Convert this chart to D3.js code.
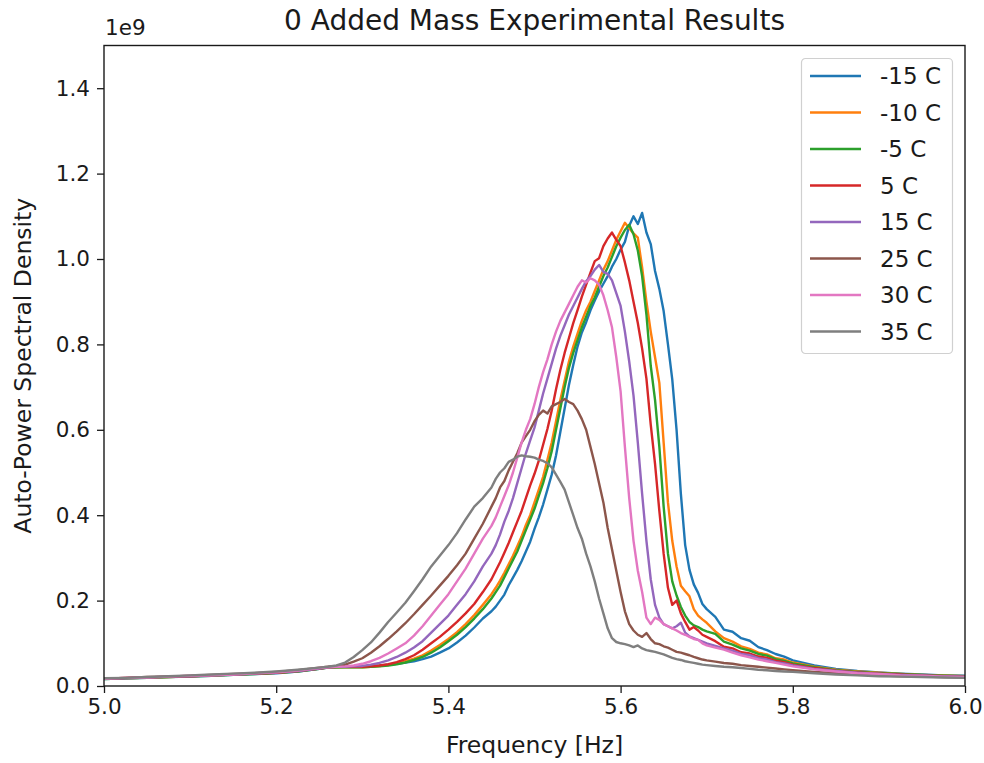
<!DOCTYPE html>
<html>
<head>
<meta charset="utf-8">
<script src="https://cdn.jsdelivr.net/npm/d3@7"></script>
<style>
    body { margin: 0; background: #fff; }
    #chart { width: 984px; height: 763px; }
    text { font-family: "DejaVu Sans", sans-serif; fill: #1a1a1a; }
    .axis path, .axis line { stroke: #1a1a1a; }
</style>
</head>
<body>
<div id="chart"></div>
<script>
// frequency grid [Hz]
const freq = [
    5.000, 5.025, 5.050, 5.075, 5.100, 5.125, 5.150, 5.175, 5.200, 5.225, 5.250,
    5.26, 5.27, 5.28, 5.29, 5.30, 5.31, 5.32, 5.33, 5.34, 5.35, 5.36, 5.37, 5.38, 5.39, 5.40, 5.41, 5.42, 5.43, 5.44,
    5.450, 5.455, 5.460, 5.465, 5.470, 5.475, 5.480, 5.485, 5.490, 5.495,
    5.500, 5.505, 5.510, 5.515, 5.520, 5.525, 5.530, 5.535, 5.540, 5.545,
    5.550, 5.555, 5.560, 5.565, 5.570, 5.575, 5.580, 5.585, 5.590, 5.595,
    5.600, 5.605, 5.610, 5.615, 5.620, 5.625, 5.630, 5.635, 5.640, 5.645,
    5.650, 5.655, 5.660, 5.665, 5.670, 5.675, 5.680, 5.685, 5.690, 5.695, 5.700,
    5.71, 5.72, 5.73, 5.74, 5.75, 5.76, 5.77, 5.78, 5.79, 5.80,
    5.825, 5.850, 5.875, 5.900, 5.925, 5.950, 5.975, 6.000
];

// auto-power spectral density, units of 1e9
const psdM15 = [
    0.016, 0.018, 0.019, 0.021, 0.022, 0.024, 0.026, 0.028, 0.030, 0.034, 0.040,
    0.043, 0.044, 0.045, 0.045, 0.046, 0.047, 0.048, 0.050, 0.052, 0.055, 0.058, 0.063, 0.069, 0.078, 0.088, 0.102, 0.118, 0.137, 0.158,
    0.175, 0.186, 0.200, 0.214, 0.236, 0.254, 0.272, 0.292, 0.315, 0.338,
    0.368, 0.395, 0.425, 0.460, 0.495, 0.540, 0.595, 0.650, 0.705, 0.752,
    0.795, 0.828, 0.852, 0.880, 0.903, 0.924, 0.942, 0.960, 0.982, 1.000,
    1.022, 1.040, 1.078, 1.100, 1.082, 1.108, 1.062, 1.035, 0.972, 0.930,
    0.878, 0.800, 0.718, 0.600, 0.450, 0.330, 0.272, 0.238, 0.218, 0.192, 0.180,
    0.162, 0.132, 0.127, 0.112, 0.106, 0.091, 0.084, 0.075, 0.069, 0.060,
    0.048, 0.040, 0.035, 0.032, 0.029, 0.027, 0.025, 0.024
];
const psdM10 = [
    0.017, 0.018, 0.020, 0.021, 0.023, 0.025, 0.027, 0.029, 0.031, 0.035, 0.041,
    0.043, 0.044, 0.044, 0.044, 0.044, 0.045, 0.047, 0.049, 0.053, 0.058, 0.064, 0.072, 0.083, 0.096, 0.110, 0.126, 0.145, 0.166, 0.190,
    0.215, 0.230, 0.247, 0.265, 0.285, 0.305, 0.327, 0.350, 0.377, 0.400,
    0.430, 0.460, 0.490, 0.530, 0.570, 0.620, 0.670, 0.715, 0.760, 0.795,
    0.825, 0.855, 0.880, 0.900, 0.925, 0.950, 0.975, 0.995, 1.020, 1.045,
    1.065, 1.085, 1.072, 1.060, 1.050, 0.980, 0.900, 0.830, 0.770, 0.710,
    0.570, 0.430, 0.340, 0.280, 0.235, 0.222, 0.210, 0.180, 0.165, 0.156, 0.148,
    0.128, 0.112, 0.104, 0.093, 0.087, 0.078, 0.074, 0.065, 0.062, 0.055,
    0.045, 0.038, 0.034, 0.031, 0.028, 0.026, 0.025, 0.023
];
const psdM5 = [
    0.016, 0.018, 0.019, 0.021, 0.023, 0.024, 0.026, 0.028, 0.031, 0.034, 0.040,
    0.043, 0.044, 0.044, 0.044, 0.044, 0.045, 0.046, 0.048, 0.051, 0.055, 0.061, 0.068, 0.078, 0.090, 0.105, 0.120, 0.138, 0.158, 0.180,
    0.205, 0.220, 0.235, 0.255, 0.275, 0.295, 0.315, 0.340, 0.365, 0.390,
    0.415, 0.445, 0.475, 0.510, 0.550, 0.600, 0.650, 0.700, 0.745, 0.780,
    0.810, 0.840, 0.865, 0.890, 0.910, 0.935, 0.960, 0.980, 1.005, 1.030,
    1.050, 1.068, 1.080, 1.058, 1.020, 0.960, 0.870, 0.750, 0.670, 0.560,
    0.420, 0.310, 0.245, 0.212, 0.185, 0.165, 0.150, 0.142, 0.138, 0.132, 0.128,
    0.122, 0.104, 0.097, 0.088, 0.083, 0.075, 0.071, 0.063, 0.059, 0.053,
    0.044, 0.037, 0.033, 0.030, 0.028, 0.026, 0.024, 0.023
];
const psdP5 = [
    0.017, 0.019, 0.020, 0.022, 0.023, 0.025, 0.027, 0.029, 0.031, 0.035, 0.041,
    0.044, 0.045, 0.045, 0.045, 0.045, 0.046, 0.048, 0.051, 0.056, 0.063, 0.072, 0.085, 0.100, 0.115, 0.132, 0.150, 0.170, 0.192, 0.220,
    0.250, 0.270, 0.290, 0.312, 0.335, 0.360, 0.385, 0.410, 0.440, 0.470,
    0.497, 0.528, 0.565, 0.602, 0.645, 0.695, 0.740, 0.780, 0.815, 0.850,
    0.880, 0.912, 0.940, 0.968, 0.995, 1.002, 1.030, 1.048, 1.062, 1.045,
    1.030, 0.992, 0.950, 0.900, 0.850, 0.790, 0.720, 0.612, 0.520, 0.410,
    0.310, 0.230, 0.190, 0.200, 0.170, 0.150, 0.132, 0.138, 0.130, 0.120, 0.115,
    0.105, 0.092, 0.088, 0.079, 0.076, 0.069, 0.066, 0.059, 0.056, 0.050,
    0.042, 0.036, 0.032, 0.029, 0.027, 0.025, 0.023, 0.022
];
const psdP15 = [
    0.017, 0.018, 0.020, 0.022, 0.023, 0.025, 0.027, 0.029, 0.032, 0.035, 0.041,
    0.044, 0.045, 0.045, 0.046, 0.047, 0.050, 0.054, 0.060, 0.068, 0.078, 0.090, 0.105, 0.125, 0.145, 0.165, 0.190, 0.215, 0.245, 0.280,
    0.310, 0.330, 0.355, 0.385, 0.410, 0.440, 0.475, 0.510, 0.545, 0.575,
    0.605, 0.645, 0.685, 0.720, 0.755, 0.790, 0.820, 0.845, 0.870, 0.890,
    0.910, 0.930, 0.948, 0.960, 0.975, 0.986, 0.970, 0.965, 0.950, 0.920,
    0.890, 0.830, 0.760, 0.680, 0.570, 0.450, 0.340, 0.250, 0.190, 0.160,
    0.145, 0.140, 0.135, 0.140, 0.148, 0.125, 0.116, 0.112, 0.108, 0.104, 0.100,
    0.094, 0.088, 0.083, 0.075, 0.072, 0.065, 0.062, 0.056, 0.053, 0.048,
    0.040, 0.035, 0.031, 0.028, 0.026, 0.024, 0.023, 0.021
];
const psdP25 = [
    0.017, 0.019, 0.021, 0.022, 0.024, 0.026, 0.028, 0.030, 0.033, 0.037, 0.043,
    0.045, 0.047, 0.050, 0.057, 0.065, 0.078, 0.093, 0.110, 0.128, 0.147, 0.168, 0.190, 0.212, 0.235, 0.258, 0.283, 0.310, 0.345, 0.380,
    0.420, 0.440, 0.465, 0.480, 0.505, 0.525, 0.545, 0.570, 0.585, 0.600,
    0.620, 0.635, 0.645, 0.638, 0.655, 0.660, 0.665, 0.672, 0.665, 0.660,
    0.645, 0.625, 0.600, 0.560, 0.520, 0.475, 0.430, 0.370, 0.320, 0.270,
    0.220, 0.175, 0.145, 0.130, 0.120, 0.115, 0.124, 0.110, 0.100, 0.098,
    0.093, 0.090, 0.085, 0.080, 0.078, 0.075, 0.072, 0.068, 0.065, 0.062, 0.060,
    0.057, 0.054, 0.052, 0.049, 0.047, 0.045, 0.043, 0.041, 0.039, 0.037,
    0.033, 0.030, 0.027, 0.025, 0.023, 0.022, 0.021, 0.020
];
const psdP30 = [
    0.017, 0.019, 0.020, 0.022, 0.024, 0.025, 0.027, 0.030, 0.032, 0.036, 0.042,
    0.044, 0.045, 0.046, 0.048, 0.052, 0.058, 0.066, 0.076, 0.088, 0.100, 0.118, 0.140, 0.165, 0.190, 0.215, 0.245, 0.275, 0.310, 0.345,
    0.375, 0.395, 0.420, 0.445, 0.470, 0.500, 0.535, 0.570, 0.600, 0.625,
    0.660, 0.700, 0.735, 0.765, 0.800, 0.830, 0.855, 0.875, 0.895, 0.915,
    0.935, 0.950, 0.945, 0.955, 0.950, 0.940, 0.915, 0.880, 0.840, 0.770,
    0.690, 0.560, 0.440, 0.340, 0.270, 0.220, 0.160, 0.145, 0.160, 0.155,
    0.145, 0.140, 0.135, 0.130, 0.124, 0.120, 0.115, 0.110, 0.108, 0.100, 0.095,
    0.090, 0.085, 0.078, 0.072, 0.067, 0.062, 0.058, 0.054, 0.050, 0.046,
    0.039, 0.034, 0.030, 0.028, 0.025, 0.024, 0.022, 0.021
];
const psdP35 = [
    0.018, 0.019, 0.021, 0.023, 0.025, 0.027, 0.029, 0.031, 0.034, 0.038, 0.043,
    0.045, 0.048, 0.055, 0.068, 0.084, 0.102, 0.125, 0.150, 0.172, 0.195, 0.222, 0.250, 0.280, 0.305, 0.330, 0.358, 0.390, 0.420, 0.440,
    0.465, 0.485, 0.500, 0.510, 0.525, 0.530, 0.537, 0.540, 0.538, 0.537,
    0.535, 0.530, 0.527, 0.522, 0.512, 0.495, 0.478, 0.460, 0.430, 0.400,
    0.370, 0.345, 0.310, 0.280, 0.245, 0.205, 0.170, 0.135, 0.112, 0.103,
    0.100, 0.098, 0.095, 0.091, 0.095, 0.088, 0.084, 0.082, 0.080, 0.077,
    0.074, 0.070, 0.066, 0.063, 0.061, 0.058, 0.056, 0.054, 0.052, 0.050, 0.049,
    0.047, 0.045, 0.044, 0.042, 0.040, 0.038, 0.037, 0.035, 0.034, 0.033,
    0.030, 0.027, 0.025, 0.023, 0.022, 0.021, 0.020, 0.019
];

const seriesLabels = ["-15 C", "-10 C", "-5 C", "5 C", "15 C", "25 C", "30 C", "35 C"];
const seriesValues = [psdM15, psdM10, psdM5, psdP5, psdP15, psdP25, psdP30, psdP35];
const seriesColors = ["#1f77b4", "#ff7f0e", "#2ca02c", "#d62728", "#9467bd", "#8c564b", "#e377c2", "#7f7f7f"];

const xTicks = [5.0, 5.2, 5.4, 5.6, 5.8, 6.0];
const yTicks = [0.0, 0.2, 0.4, 0.6, 0.8, 1.0, 1.2, 1.4];

class SpectrumVis {
    constructor(parentElement) {
        this.parentElement = parentElement;
        this.initVis();
    }

    initVis() {
        const vis = this;

        vis.margin = { top: 45.5, right: 19, bottom: 77, left: 104 };
        vis.width = 984 - vis.margin.left - vis.margin.right;
        vis.height = 763 - vis.margin.top - vis.margin.bottom;

        vis.root = d3.select(vis.parentElement)
            .append("svg")
            .attr("width", 984)
            .attr("height", 763);

        vis.svg = vis.root.append("g")
            .attr("transform", `translate(${vis.margin.left}, ${vis.margin.top})`);

        vis.xScale = d3.scaleLinear().domain([5.0, 6.0]).range([0, vis.width]);
        vis.yScale = d3.scaleLinear().domain([0, 1.5]).range([vis.height, 0]);

        vis.svg.append("defs").append("clipPath")
            .attr("id", "plot-clip")
            .append("rect")
            .attr("width", vis.width)
            .attr("height", vis.height);

        vis.linesGroup = vis.svg.append("g").attr("clip-path", "url(#plot-clip)");

        // axes
        vis.xAxis = d3.axisBottom(vis.xScale)
            .tickValues(xTicks)
            .tickFormat(d3.format(".1f"))
            .tickSize(7)
            .tickPadding(6);

        vis.yAxis = d3.axisLeft(vis.yScale)
            .tickValues(yTicks)
            .tickFormat(d3.format(".1f"))
            .tickSize(7)
            .tickPadding(7);

        vis.svg.append("g")
            .attr("class", "axis x-axis")
            .attr("transform", `translate(0, ${vis.height})`)
            .call(vis.xAxis);

        vis.svg.append("g")
            .attr("class", "axis y-axis")
            .call(vis.yAxis);

        vis.svg.selectAll(".axis text")
            .style("font-size", "21.5px")
            .style("font-family", "DejaVu Sans, sans-serif");
        vis.svg.selectAll(".axis .domain").remove();
        vis.svg.selectAll(".axis line").attr("stroke-width", 1.3);

        // frame
        vis.svg.append("rect")
            .attr("width", vis.width)
            .attr("height", vis.height)
            .attr("fill", "none")
            .attr("stroke", "#1a1a1a")
            .attr("stroke-width", 1.4);

        // labels
        vis.root.append("text")
            .attr("x", vis.margin.left + vis.width / 2)
            .attr("y", 30)
            .attr("text-anchor", "middle")
            .style("font-size", "28px")
            .text("0 Added Mass Experimental Results");

        vis.root.append("text")
            .attr("x", vis.margin.left + vis.width / 2)
            .attr("y", 753)
            .attr("text-anchor", "middle")
            .style("font-size", "23.5px")
            .text("Frequency [Hz]");

        vis.root.append("text")
            .attr("transform", `translate(31, ${vis.margin.top + vis.height / 2}) rotate(-90)`)
            .attr("text-anchor", "middle")
            .style("font-size", "23.5px")
            .text("Auto-Power Spectral Density");

        vis.root.append("text")
            .attr("x", vis.margin.left + 1)
            .attr("y", 35)
            .style("font-size", "21.5px")
            .text("1e9");

        vis.wrangleData();
    }

    wrangleData() {
        const vis = this;
        vis.displayData = seriesLabels.map((label, i) => ({
            label: label,
            color: seriesColors[i],
            points: freq.map((f, j) => ({ f: f, v: seriesValues[i][j] }))
        }));
        vis.updateVis();
    }

    updateVis() {
        const vis = this;

        const line = d3.line()
            .x(d => vis.xScale(d.f))
            .y(d => vis.yScale(d.v));

        vis.linesGroup.selectAll(".series")
            .data(vis.displayData)
            .join("path")
            .attr("class", "series")
            .attr("fill", "none")
            .attr("stroke", d => d.color)
            .attr("stroke-width", 2.4)
            .attr("stroke-linejoin", "round")
            .attr("d", d => line(d.points));

        // legend
        const legend = vis.root.append("g")
            .attr("transform", "translate(801.5, 58.5)");

        legend.append("rect")
            .attr("width", 151)
            .attr("height", 295)
            .attr("rx", 4)
            .attr("fill", "#fff")
            .attr("fill-opacity", 0.8)
            .attr("stroke", "#d0d0d0")
            .attr("stroke-width", 1.2);

        const rows = legend.selectAll(".legend-row")
            .data(vis.displayData)
            .join("g")
            .attr("class", "legend-row")
            .attr("transform", (d, i) => `translate(0, ${17.5 + i * 36.5})`);

        rows.append("line")
            .attr("x1", 8.5)
            .attr("x2", 59.5)
            .attr("stroke", d => d.color)
            .attr("stroke-width", 2.4);

        rows.append("text")
            .attr("x", 78.5)
            .attr("dy", "0.35em")
            .style("font-size", "23px")
            .text(d => d.label);
    }
}

new SpectrumVis("#chart");
</script>
</body>
</html>
